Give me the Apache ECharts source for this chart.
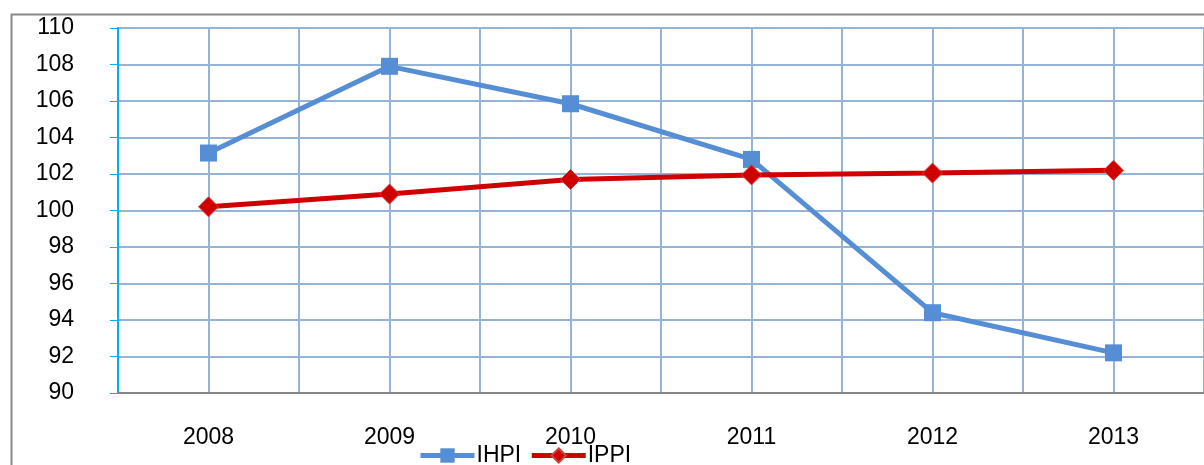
<!DOCTYPE html>
<html>
<head>
<meta charset="utf-8">
<script src="https://cdn.jsdelivr.net/npm/echarts@6/dist/echarts.min.js"></script>
<style>
  html, body { margin: 0; padding: 0; background: #fff; }
  #chart { width: 1204px; height: 465px; }
</style>
</head>
<body>
<div id="chart"></div>
<script>
const years = ['2008', '2009', '2010', '2011', '2012', '2013'];
const ihpi = [103.15, 107.9, 105.85, 102.8, 94.4, 92.2];
const ippi = [100.2, 100.9, 101.7, 101.95, 102.05, 102.2];

const font = 'Liberation Sans';
const gridColor = '#95B3D7';

const chart = echarts.init(document.getElementById('chart'), null, { renderer: 'canvas' });
chart.setOption({
  animation: false,
  graphic: [{
    type: 'rect',
    left: 9, top: 12,
    shape: { width: 1400, height: 600 },
    style: { fill: 'none', stroke: '#888', lineWidth: 2 },
    silent: true,
    z: -1
  }],
  grid: { left: 118, right: 0, top: 28, bottom: 72 },
  legend: {
    left: 413, top: 439,
    itemWidth: 54, itemHeight: 18, itemGap: 8,
    lineStyle: { width: 5 },
    textStyle: { fontFamily: font, fontSize: 23, color: '#000', padding: [0, 0, 0, -3] },
    data: ['IHPI', 'IPPI']
  },
  xAxis: [{
    type: 'category',
    data: years,
    boundaryGap: true,
    axisLine: { lineStyle: { color: '#868686', width: 2 } },
    axisTick: { length: 8, lineStyle: { color: '#868686', width: 1 } },
    axisLabel: { fontFamily: font, fontSize: 23, color: '#000', margin: 33 },
    splitLine: { show: false }
  }, {
    type: 'value',
    min: 0, max: 12, interval: 1,
    position: 'bottom',
    show: true,
    axisLine: { show: false },
    axisTick: { show: false },
    axisLabel: { show: false },
    splitLine: { show: true, lineStyle: { color: gridColor, width: 2 } }
  }],
  yAxis: {
    type: 'value',
    min: 90, max: 110, interval: 2,
    axisLine: { show: true, lineStyle: { color: '#00B0F0', width: 2 } },
    axisTick: { show: true, length: 8, lineStyle: { color: '#00B0F0', width: 1 } },
    axisLabel: { fontFamily: font, fontSize: 23, color: '#000', margin: 44 },
    splitLine: { show: true, lineStyle: { color: gridColor, width: 2 } }
  },
  series: [{
    name: 'IHPI',
    type: 'line',
    data: ihpi,
    symbol: 'rect',
    symbolSize: 17,
    lineStyle: { color: '#558ED5', width: 5 },
    itemStyle: { color: '#558ED5' },
    z: 3
  }, {
    name: 'IPPI',
    type: 'line',
    data: ippi,
    symbol: 'diamond',
    symbolSize: 20,
    lineStyle: { color: '#D00000', width: 5 },
    itemStyle: { color: '#D00000', borderColor: '#D04040', borderWidth: 1 },
    z: 4
  }]
});
</script>
</body>
</html>
